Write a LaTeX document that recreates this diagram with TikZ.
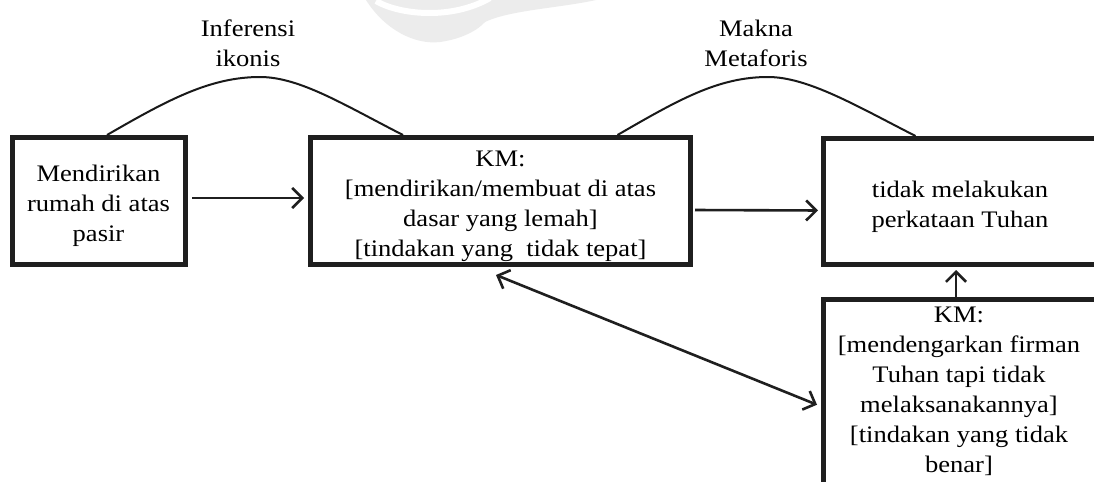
\documentclass[tikz,border=0pt]{standalone}
\usepackage{fontspec}
\setmainfont{Liberation Serif}[FakeStretch=1.12]
\usetikzlibrary{arrows.meta}

\begin{document}
\begin{tikzpicture}[x=0.5pt,y=-0.5pt,
  txtfont/.style={font=\fontsize{11.85pt}{15pt}\selectfont},
  box/.style={draw=black!88, line width=2.5pt, inner sep=0pt},
  lbl/.style={align=center, inner sep=0pt, txtfont, text=black},
  tip/.tip={Straight Barb[length=5pt,width=10pt]},
  conn/.style={draw=black!88, line width=1.3pt, -tip},
  both/.style={draw=black!88, line width=1.3pt, tip-tip},
  bell/.style={draw=black!90, line width=1pt}]
\useasboundingbox (0,0) rectangle (1094,482);
\clip (0,0) rectangle (1094,482);
\fill[white] (0,0) rectangle (1094,482);

% faint emblem at the top
\fill[gray!15] (366,0) .. controls (385,30) and (415,45) .. (440,42)
  .. controls (462,39) and (478,30) .. (485,22)
  .. controls (510,10) and (560,8) .. (596,0) -- cycle;
\draw[white, line width=3pt] (376,1) .. controls (400,15) and (452,20) .. (490,-2);

% boxes
\node[box, minimum width=86.5pt, minimum height=63.5pt] (A) at (99,201) {};
\node[box, minimum width=190pt, minimum height=63.5pt] (B) at (500.5,201) {};
\node[box, minimum width=136.5pt, minimum height=63pt] (C) at (960,201.5) {};
\node[box, minimum width=136.5pt, minimum height=105.25pt] (D) at (960,404.75) {};

% box texts
\node[lbl] (At) at (98.5,206) {Mendirikan\\rumah di atas\\pasir};
\node[lbl] (Bt) at (500.5,206)
  {KM:\\{[}mendirikan/membuat di atas\\dasar yang lemah{]}\\{[}tindakan yang\ \ tidak tepat{]}};
\node[lbl] (Ct) at (960,207) {tidak melakukan\\perkataan Tuhan};
\node[lbl, anchor=north] (Dt) at (959,306.5)
  {KM:\\{[}mendengarkan firman\\Tuhan tapi tidak\\melaksanakannya{]}\\{[}tindakan yang tidak\\benar{]}};

% labels over the arcs
\node[lbl] (L1) at (248,43.5) {Inferensi\\ikonis};
\node[lbl] (L2) at (756,43.5) {Makna\\Metaforis};

% arcs
\coordinate (k1) at (260,77);
\coordinate (k2) at (768,77);
\draw[bell] ([xshift=4pt]A.north) .. controls +(60.6,-35) and +(-50,0) .. (k1)
  .. controls +(40,0) and +(-57.9,-29.5) .. ([xshift=-48.75pt]B.north);
\draw[bell] ([xshift=58.5pt]B.north) .. controls +(60.6,-35) and +(-50,0) .. (k2)
  .. controls +(40,0) and +(-57.9,-29.5) .. ([xshift=-22.25pt]C.north);

% arrows
\draw[conn, shorten <=2pt, shorten >=2pt] ([yshift=1.5pt]A.east) -- ([yshift=1.5pt]B.west);
\draw[conn, shorten <=1pt, shorten >=1.5pt] ([yshift=-4.5pt]B.east) -- ([yshift=-4.5pt]C.west);
\draw[conn, shorten >=1.5pt] ([xshift=-2pt]D.north) -- ([xshift=-2pt]C.south);
\draw[both] ([xshift=-2.25pt,yshift=-4pt]B.south) -- ([xshift=-2pt]D.west);
\end{tikzpicture}
\end{document}
